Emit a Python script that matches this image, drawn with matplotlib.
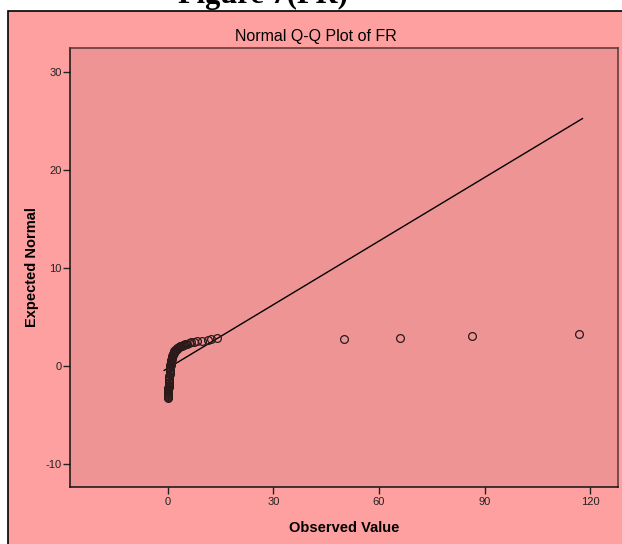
import matplotlib
matplotlib.use("Agg")
import matplotlib.pyplot as plt
from matplotlib.patches import Rectangle

plt.rcParams['font.family'] = ['Liberation Sans', 'DejaVu Sans']
plt.rcParams['axes.unicode_minus'] = False

# observed FR values and their expected normal scores
observed = [0.0, 0.05, 0.05, 0.1, 0.1, 0.1, 0.15, 0.15, 0.2, 0.2, 0.2, 0.25, 0.3,
            0.3, 0.35, 0.4, 0.4, 0.45, 0.5, 0.5, 0.55, 0.6, 0.6, 0.65, 0.7, 0.7,
            0.75, 0.8, 0.85, 0.9, 0.95, 1.0, 1.05, 1.1, 1.15, 1.2, 1.3, 1.35, 1.45,
            1.5, 1.6, 1.7, 1.8, 1.9, 2.05, 2.2, 2.35, 2.5, 2.7, 2.9, 3.1, 3.3,
            3.55, 3.8, 4.05, 4.3, 4.55, 4.8, 5.1, 5.4, 6.0, 6.7, 7.5, 8.4, 9.8,
            11.4, 12.4, 14.1, 50.2, 66.0, 86.4, 116.8]
expected = [-3.2, -3.1, -3.0, -2.9, -2.8, -2.7, -2.6, -2.5, -2.4, -2.3, -2.2, -2.1,
            -2.0, -1.85, -1.7, -1.55, -1.4, -1.25, -1.1, -0.95, -0.8, -0.65, -0.5,
            -0.35, -0.2, -0.05, 0.1, 0.2, 0.3, 0.4, 0.5, 0.6, 0.68, 0.76, 0.84,
            0.92, 1.0, 1.08, 1.16, 1.24, 1.32, 1.4, 1.47, 1.54, 1.6, 1.66, 1.72,
            1.78, 1.84, 1.9, 1.95, 2.0, 2.05, 2.1, 2.14, 2.18, 2.22, 2.26, 2.3,
            2.34, 2.39, 2.45, 2.5, 2.55, 2.61, 2.69, 2.76, 2.86, 2.85, 2.92, 3.09,
            3.29]

# reference line end points
ref_x = [-1.0, 117.8]
ref_y = [-0.4, 25.3]

xticks = [0, 30, 60, 90, 120]
yticks = [-10, 0, 10, 20, 30]

W, H = 622, 544
fig = plt.figure(figsize=(W / 100, H / 100), dpi=100, facecolor='white')

# pink chart frame, kept behind the axes
frame = Rectangle((8 / W, -0.02), 1.0, (H - 11) / H + 0.02,
                  transform=fig.transFigure, facecolor='#FFA0A0',
                  edgecolor='black', linewidth=1.2, zorder=-10)
fig.patches.append(frame)

fig.text(263 / W, 1 - 3 / H, 'Figure 7(FR)', ha='center', va='baseline',
         family='Liberation Serif', fontweight='bold', fontsize=22)
fig.text(316 / W, 1 - 36 / H, 'Normal Q-Q Plot of FR', ha='center', va='center',
         fontsize=11.5)

ax = fig.add_axes([70 / W, 1 - 487 / H, (618 - 70) / W, (487 - 48) / H])
ax.set_zorder(5)
ax.set_facecolor('#EF9494')

ax.plot(ref_x, ref_y, color='black', lw=1.0, zorder=2)
ax.plot(observed, expected, linestyle='none', marker='o', markersize=5.6,
        markerfacecolor='none', markeredgecolor='#2a1a1a', markeredgewidth=0.9,
        zorder=3)

ax.set_xlim(-27.76, 127.9)
ax.set_ylim(-12.3, 32.5)
ax.set_xticks(xticks)
ax.set_yticks(yticks)
ax.tick_params(direction='out', length=5, width=1, labelsize=8, colors='#222222')
ax.tick_params(axis='x', pad=2)
ax.tick_params(axis='y', pad=1)

for side in ['left', 'bottom']:
    ax.spines[side].set_color('#111111')
    ax.spines[side].set_linewidth(1.1)
for side in ['top', 'right']:
    ax.spines[side].set_color('#5a3434')
    ax.spines[side].set_linewidth(1.1)

ax.set_xlabel('Observed Value', fontweight='bold', fontsize=10.5, labelpad=10)
ax.set_ylabel('Expected Normal', fontweight='bold', fontsize=10.5, labelpad=5)

fig.savefig('out.png', dpi=100, facecolor=fig.get_facecolor())
